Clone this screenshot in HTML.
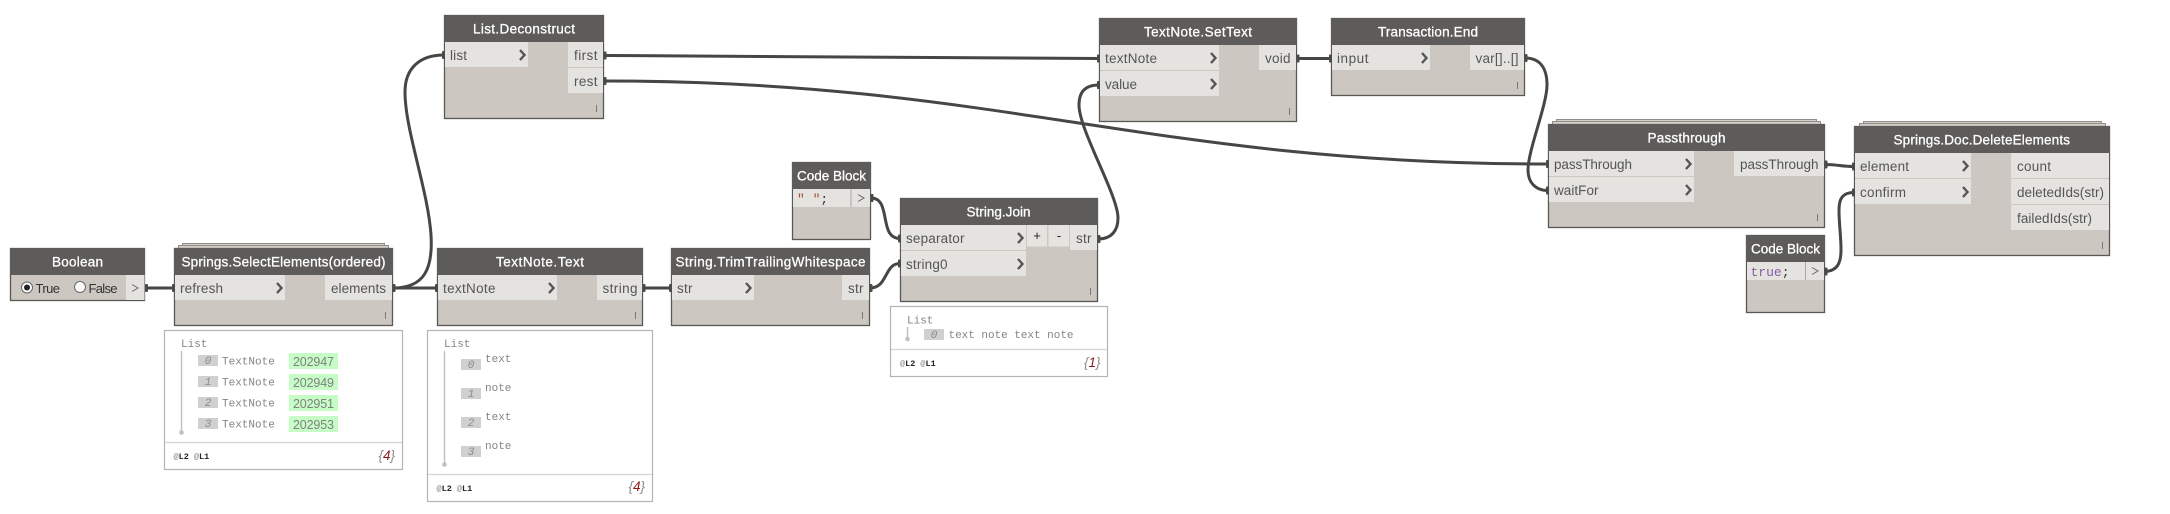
<!DOCTYPE html>
<html><head><meta charset="utf-8"><style>
html,body{margin:0;padding:0;background:#fff;width:2170px;height:514px;overflow:hidden}
svg{display:block}
text{font-family:"Liberation Sans",sans-serif}
.b{fill:#ccc7c0;stroke:#5a5855;stroke-width:1.3}
.h{fill:#5e5c5a}
.r{fill:#e4e3df}
.st{fill:#d4d0c9;stroke:#8f8d88;stroke-width:1}
.t{fill:#fff;font-size:13.5px;stroke:#fff;stroke-width:.3}
.l{fill:#555;font-size:13.5px}
.c{fill:none;stroke:#464644;stroke-width:3}
.n{fill:#4a4a48}
.ch{fill:none;stroke:#555;stroke-width:2.4}
.g{fill:none;stroke:#666;stroke-width:1}
.w{fill:#fff;stroke:#b4b4b4;stroke-width:1.2}
.d{stroke:#d4d4d4;stroke-width:1.2}
.m{font-family:"Liberation Mono",monospace;font-size:11px;fill:#858585}
.i{font-family:"Liberation Mono",monospace;font-size:11px;fill:#8a8a8a;font-style:italic}
.ib{fill:#d0d0d0}
.gb{fill:#c6fcc6}
.v{fill:#808080;font-size:12.5px}
.f{font-family:"Liberation Mono",monospace;font-size:8.5px;font-weight:bold;fill:#222}
.a{fill:#888;font-weight:normal}
.cnt{font-family:"Liberation Sans",sans-serif;font-size:13.5px;font-style:italic;fill:#8a8a8a}
.cr{fill:#8b1a1a}
.ln{stroke:#c0c0c0;stroke-width:1.4}
.dot{fill:#c0c0c0}
.s{stroke:#777;stroke-width:1}
.code{font-family:"Liberation Mono",monospace;font-size:13px;fill:#333}
</style></head><body>
<svg width="2170" height="514" viewBox="0 0 2170 514" xmlns="http://www.w3.org/2000/svg">
<rect width="2170" height="514" fill="#fff"/>

<!-- stacks -->
<rect class="st" x="182.5" y="243.5" width="202" height="8"/><rect class="st" x="178.5" y="245.5" width="210" height="8"/>
<rect class="st" x="1556.5" y="119.5" width="260" height="8"/><rect class="st" x="1552.5" y="121.5" width="268" height="8"/>
<rect class="st" x="1863.5" y="121.5" width="238" height="8"/><rect class="st" x="1859.5" y="123.5" width="246" height="8"/>

<!-- connectors -->
<g>
<path class="c" d="M146,288H174"/>
<path class="c" d="M393,288H437"/>
<path class="c" d="M393,288C425,288 433,268 431,235C428,190 405,130 405,92C405,68 420,55 444,55"/>
<path class="c" d="M605,55.5C800,55.5 900,58.5 1099,58.5"/>
<path class="c" d="M605,81C1000,81 1150,164 1548,164"/>
<path class="c" d="M643,288H671"/>
<path class="c" d="M870,288C888,288 884,263.5 900,263.5"/>
<path class="c" d="M871,198C892,198 878,238.5 900,238.5"/>
<path class="c" d="M1098,239C1112,239 1118,230 1118,218C1118,195 1079,130 1079,105C1079,92 1085,85 1099,85"/>
<path class="c" d="M1297,58.5H1331"/>
<path class="c" d="M1525,58C1540,58 1547,68 1547,85C1547,105 1528,150 1528,170C1528,182 1535,190.5 1548,190.5"/>
<path class="c" d="M1825,164.5C1838,164.5 1841,166.5 1854,166.5"/>
<path class="c" d="M1825,271.5C1838,271 1841,262 1841,250C1841,235 1839,225 1839,210C1839,198 1843,192.5 1854,192.5"/>
</g>

<!-- Boolean -->
<rect class="b" x="10.5" y="248.5" width="134" height="52"/>
<rect class="h" x="10" y="248" width="135" height="27"/>
<text class="t" x="77.5" y="266.5" text-anchor="middle" textLength="51">Boolean</text>
<rect class="r" x="126" y="275" width="18.5" height="25"/>
<circle cx="27" cy="287.5" r="5.5" fill="#fff" stroke="#666" stroke-width="1"/><circle cx="27" cy="287.5" r="3" fill="#222"/>
<text x="35.5" y="293" font-size="13" fill="#333" textLength="24.5">True</text>
<circle cx="80" cy="287" r="5.5" fill="#fff" stroke="#666" stroke-width="1"/>
<text x="88.5" y="293" font-size="13" fill="#333" textLength="29">False</text>
<path class="g" d="M132,284.5L138,288L132,291.5"/>

<!-- Springs.SelectElements -->
<rect class="b" x="174.5" y="248.5" width="218" height="77"/>
<rect class="h" x="174" y="248" width="219" height="27"/>
<text class="t" x="181.5" y="266.5" textLength="204">Springs.SelectElements(ordered)</text>
<rect class="r" x="175" y="275" width="110" height="25"/><rect class="r" x="325" y="275" width="67" height="25"/>
<text class="l" x="180" y="293" textLength="43">refresh</text><text class="l" x="331" y="293" textLength="55">elements</text>
<path class="ch" d="M277,283L281.5,288L277,293"/>
<path class="s" d="M385.5,312V319"/>

<!-- Watch 1 -->
<rect class="w" x="164.5" y="330.5" width="238" height="139"/>
<line class="d" x1="165" x2="402" y1="442.5" y2="442.5"/>
<text class="m" x="181" y="347">List</text>
<line class="ln" x1="181.5" x2="181.5" y1="351" y2="432"/><circle class="dot" cx="181.5" cy="432.5" r="2.3"/>
<rect class="ib" x="198" y="355" width="20" height="11"/><text class="i" x="208" y="364" text-anchor="middle">0</text>
<rect class="ib" x="198" y="376" width="20" height="11"/><text class="i" x="208" y="385" text-anchor="middle">1</text>
<rect class="ib" x="198" y="397" width="20" height="11"/><text class="i" x="208" y="406" text-anchor="middle">2</text>
<rect class="ib" x="198" y="418" width="20" height="11"/><text class="i" x="208" y="427" text-anchor="middle">3</text>
<text class="m" x="222" y="364.5">TextNote</text><text class="m" x="222" y="385.5">TextNote</text><text class="m" x="222" y="406.5">TextNote</text><text class="m" x="222" y="427.5">TextNote</text>
<rect class="gb" x="289" y="353" width="49" height="16"/><rect class="gb" x="289" y="374" width="49" height="16"/><rect class="gb" x="289" y="395" width="49" height="16"/><rect class="gb" x="289" y="416" width="49" height="16"/>
<text class="v" x="293" y="366" textLength="41">202947</text><text class="v" x="293" y="387" textLength="41">202949</text><text class="v" x="293" y="408" textLength="41">202951</text><text class="v" x="293" y="429" textLength="41">202953</text>
<text class="f" x="173.5" y="459"><tspan class="a">@</tspan>L2 <tspan class="a">@</tspan>L1</text>
<text class="cnt" x="378.5" y="460">{<tspan class="cr">4</tspan>}</text>

<!-- TextNote.Text -->
<rect class="b" x="437.5" y="248.5" width="205" height="77"/>
<rect class="h" x="437" y="248" width="206" height="27"/>
<text class="t" x="540" y="266.5" text-anchor="middle" textLength="88">TextNote.Text</text>
<rect class="r" x="438" y="275" width="119" height="25"/><rect class="r" x="597" y="275" width="45" height="25"/>
<text class="l" x="443" y="293" textLength="52.5">textNote</text><text class="l" x="602.5" y="293" textLength="35">string</text>
<path class="ch" d="M549,283L553.5,288L549,293"/>
<path class="s" d="M635.5,312V319"/>

<!-- Watch 2 -->
<rect class="w" x="427.5" y="330.5" width="225" height="171"/>
<line class="d" x1="428" x2="652" y1="474.5" y2="474.5"/>
<text class="m" x="444" y="347">List</text>
<line class="ln" x1="444.5" x2="444.5" y1="351" y2="464"/><circle class="dot" cx="444.5" cy="464.5" r="2.3"/>
<rect class="ib" x="461" y="359" width="20" height="11"/><text class="i" x="471" y="368" text-anchor="middle">0</text>
<rect class="ib" x="461" y="388" width="20" height="11"/><text class="i" x="471" y="397" text-anchor="middle">1</text>
<rect class="ib" x="461" y="417" width="20" height="11"/><text class="i" x="471" y="426" text-anchor="middle">2</text>
<rect class="ib" x="461" y="446" width="20" height="11"/><text class="i" x="471" y="455" text-anchor="middle">3</text>
<text class="m" x="485" y="362">text</text><text class="m" x="485" y="391">note</text><text class="m" x="485" y="420">text</text><text class="m" x="485" y="449">note</text>
<text class="f" x="436.5" y="491"><tspan class="a">@</tspan>L2 <tspan class="a">@</tspan>L1</text>
<text class="cnt" x="628.5" y="491">{<tspan class="cr">4</tspan>}</text>

<!-- List.Deconstruct -->
<rect class="b" x="444.5" y="15.5" width="159" height="103"/>
<rect class="h" x="444" y="15" width="160" height="27"/>
<text class="t" x="524" y="33.5" text-anchor="middle" textLength="102">List.Deconstruct</text>
<rect class="r" x="445" y="42" width="83" height="25"/><rect class="r" x="568" y="42" width="35" height="25"/><rect class="r" x="568" y="68" width="35" height="25"/>
<text class="l" x="450" y="60" textLength="17">list</text><text class="l" x="574" y="60" textLength="23.5">first</text><text class="l" x="574" y="86" textLength="23.5">rest</text>
<path class="ch" d="M520,50L524.5,55L520,60"/>
<path class="s" d="M596.5,105V112"/>

<!-- String.TrimTrailingWhitespace -->
<rect class="b" x="671.5" y="248.5" width="198" height="77"/>
<rect class="h" x="671" y="248" width="199" height="27"/>
<text class="t" x="675.5" y="266.5" textLength="190">String.TrimTrailingWhitespace</text>
<rect class="r" x="672" y="275" width="82" height="25"/><rect class="r" x="842" y="275" width="27" height="25"/>
<text class="l" x="677" y="293" textLength="15.5">str</text><text class="l" x="848" y="293" textLength="15.5">str</text>
<path class="ch" d="M746,283L750.5,288L746,293"/>
<path class="s" d="M862.5,312V319"/>

<!-- Code Block 1 -->
<rect class="b" x="792.5" y="162.5" width="78" height="77"/>
<rect class="h" x="792" y="162" width="79" height="27"/>
<text class="t" x="797" y="180.5" textLength="69">Code Block</text>
<rect class="r" x="793" y="189" width="77" height="18"/>
<line x1="851" x2="851" y1="189" y2="207" stroke="#aaa" stroke-width="1"/>
<text class="code" x="797" y="203"><tspan style="fill:#a0522d">"&#160;"</tspan>;</text>
<path class="g" d="M858,194.5L864,198L858,201.5"/>

<!-- String.Join -->
<rect class="b" x="900.5" y="198.5" width="197" height="103"/>
<rect class="h" x="900" y="198" width="198" height="27"/>
<text class="t" x="998.5" y="216.5" text-anchor="middle" textLength="64">String.Join</text>
<rect class="r" x="901" y="225" width="125" height="25"/><rect class="r" x="901" y="251" width="125" height="25"/>
<rect class="r" x="1027" y="225" width="20" height="21.5"/><rect class="r" x="1048.5" y="225" width="20.5" height="21.5"/><rect class="r" x="1070" y="225" width="27" height="25"/>
<text class="l" x="906" y="243" textLength="58.5">separator</text><text class="l" x="906" y="269" textLength="41.5">string0</text><text class="l" x="1076" y="243" textLength="15.5">str</text>
<text x="1037" y="240" text-anchor="middle" font-size="13" fill="#222">+</text><text x="1059" y="240" text-anchor="middle" font-size="13" fill="#222">-</text>
<path class="ch" d="M1018,233L1022.5,238L1018,243"/><path class="ch" d="M1018,259L1022.5,264L1018,269"/>
<path class="s" d="M1090.5,288V295"/>

<!-- Watch 3 -->
<rect class="w" x="890.5" y="306.5" width="217" height="70"/>
<line class="d" x1="891" x2="1107" y1="349.5" y2="349.5"/>
<text class="m" x="907" y="323.5">List</text>
<line class="ln" x1="907.5" x2="907.5" y1="327" y2="338"/><circle class="dot" cx="907.5" cy="339" r="2.3"/>
<rect class="ib" x="924" y="329" width="20" height="11"/><text class="i" x="934" y="338" text-anchor="middle">0</text>
<text class="m" x="948.5" y="338" textLength="125">text note text note</text>
<text class="f" x="900" y="366"><tspan class="a">@</tspan>L2 <tspan class="a">@</tspan>L1</text>
<text class="cnt" x="1084" y="367">{<tspan class="cr">1</tspan>}</text>

<!-- TextNote.SetText -->
<rect class="b" x="1099.5" y="18.5" width="197" height="103"/>
<rect class="h" x="1099" y="18" width="198" height="27"/>
<text class="t" x="1198" y="36.5" text-anchor="middle" textLength="108">TextNote.SetText</text>
<rect class="r" x="1100" y="45" width="119" height="25"/><rect class="r" x="1100" y="71" width="119" height="25"/><rect class="r" x="1259" y="45" width="37" height="25"/>
<text class="l" x="1105" y="63" textLength="52">textNote</text><text class="l" x="1105" y="89" textLength="32">value</text><text class="l" x="1265" y="63" textLength="25.5">void</text>
<path class="ch" d="M1211,53L1215.5,58L1211,63"/><path class="ch" d="M1211,79L1215.5,84L1211,89"/>
<path class="s" d="M1289.5,108V115"/>

<!-- Transaction.End -->
<rect class="b" x="1331.5" y="18.5" width="193" height="77"/>
<rect class="h" x="1331" y="18" width="194" height="27"/>
<text class="t" x="1428" y="36.5" text-anchor="middle" textLength="100">Transaction.End</text>
<rect class="r" x="1332" y="45" width="98" height="25"/><rect class="r" x="1470" y="45" width="54" height="25"/>
<text class="l" x="1337" y="63" textLength="31.5">input</text><text class="l" x="1475.5" y="63" textLength="43">var[]..[]</text>
<path class="ch" d="M1422,53L1426.5,58L1422,63"/>
<path class="s" d="M1517.5,82V89"/>

<!-- Passthrough -->
<rect class="b" x="1548.5" y="124.5" width="276" height="103"/>
<rect class="h" x="1548" y="124" width="277" height="27"/>
<text class="t" x="1686.5" y="142.5" text-anchor="middle" textLength="78">Passthrough</text>
<rect class="r" x="1549" y="151" width="145" height="25"/><rect class="r" x="1549" y="177" width="145" height="25"/><rect class="r" x="1734" y="151" width="90" height="25"/>
<text class="l" x="1554" y="169" textLength="78">passThrough</text><text class="l" x="1554" y="195" textLength="44.5">waitFor</text><text class="l" x="1740" y="169" textLength="78.5">passThrough</text>
<path class="ch" d="M1686,159L1690.5,164L1686,169"/><path class="ch" d="M1686,185L1690.5,190L1686,195"/>
<path class="s" d="M1817.5,214V221"/>

<!-- Springs.Doc.DeleteElements -->
<rect class="b" x="1854.5" y="126.5" width="255" height="129"/>
<rect class="h" x="1854" y="126" width="256" height="27"/>
<text class="t" x="1893.5" y="144.5" textLength="176.5">Springs.Doc.DeleteElements</text>
<rect class="r" x="1855" y="153" width="116" height="25"/><rect class="r" x="1855" y="179" width="116" height="25"/>
<rect class="r" x="2011" y="153" width="98" height="25"/><rect class="r" x="2011" y="179" width="98" height="25"/><rect class="r" x="2011" y="205" width="98" height="25"/>
<text class="l" x="1860" y="171" textLength="49">element</text><text class="l" x="1860" y="197" textLength="46">confirm</text>
<text class="l" x="2017" y="171" textLength="34">count</text><text class="l" x="2017" y="197" textLength="87">deletedIds(str)</text><text class="l" x="2017" y="223" textLength="75">failedIds(str)</text>
<path class="ch" d="M1963,161L1967.5,166L1963,171"/><path class="ch" d="M1963,187L1967.5,192L1963,197"/>
<path class="s" d="M2102.5,242V249"/>

<!-- Code Block 2 -->
<rect class="b" x="1746.5" y="235.5" width="78" height="77"/>
<rect class="h" x="1746" y="235" width="79" height="27"/>
<text class="t" x="1751" y="253.5" textLength="69">Code Block</text>
<rect class="r" x="1747" y="262" width="77" height="18"/>
<line x1="1805.5" x2="1805.5" y1="262" y2="280" stroke="#aaa" stroke-width="1"/>
<text class="code" x="1750.5" y="276"><tspan style="fill:#8a5ca8">true</tspan>;</text>
<path class="g" d="M1812,267.5L1818,271L1812,274.5"/>

<!-- port nubs -->
<g class="n">
<rect x="145" y="284" width="3" height="8" rx="1"/><rect x="172" y="284" width="3" height="8" rx="1"/>
<rect x="392.5" y="284" width="3" height="8" rx="1"/><rect x="435" y="284" width="3" height="8" rx="1"/>
<rect x="642.5" y="284" width="3" height="8" rx="1"/><rect x="669" y="284" width="3" height="8" rx="1"/>
<rect x="869.5" y="284" width="3" height="8" rx="1"/><rect x="898" y="259.5" width="3" height="8" rx="1"/>
<rect x="870.5" y="194" width="3" height="8" rx="1"/><rect x="898" y="234.5" width="3" height="8" rx="1"/>
<rect x="1097.5" y="235" width="3" height="8" rx="1"/><rect x="1097" y="81" width="3" height="8" rx="1"/><rect x="1097" y="54.5" width="3" height="8" rx="1"/>
<rect x="442" y="51" width="3" height="8" rx="1"/><rect x="603.5" y="51.5" width="3" height="8" rx="1"/><rect x="603.5" y="77" width="3" height="8" rx="1"/>
<rect x="1296.5" y="54.5" width="3" height="8" rx="1"/><rect x="1329" y="54.5" width="3" height="8" rx="1"/><rect x="1524.5" y="54" width="3" height="8" rx="1"/>
<rect x="1546" y="160" width="3" height="8" rx="1"/><rect x="1546" y="186.5" width="3" height="8" rx="1"/>
<rect x="1824.5" y="160.5" width="3" height="8" rx="1"/><rect x="1852" y="162.5" width="3" height="8" rx="1"/><rect x="1852" y="188.5" width="3" height="8" rx="1"/><rect x="1824.5" y="267.5" width="3" height="8" rx="1"/>
</g>
</svg>
</body></html>
